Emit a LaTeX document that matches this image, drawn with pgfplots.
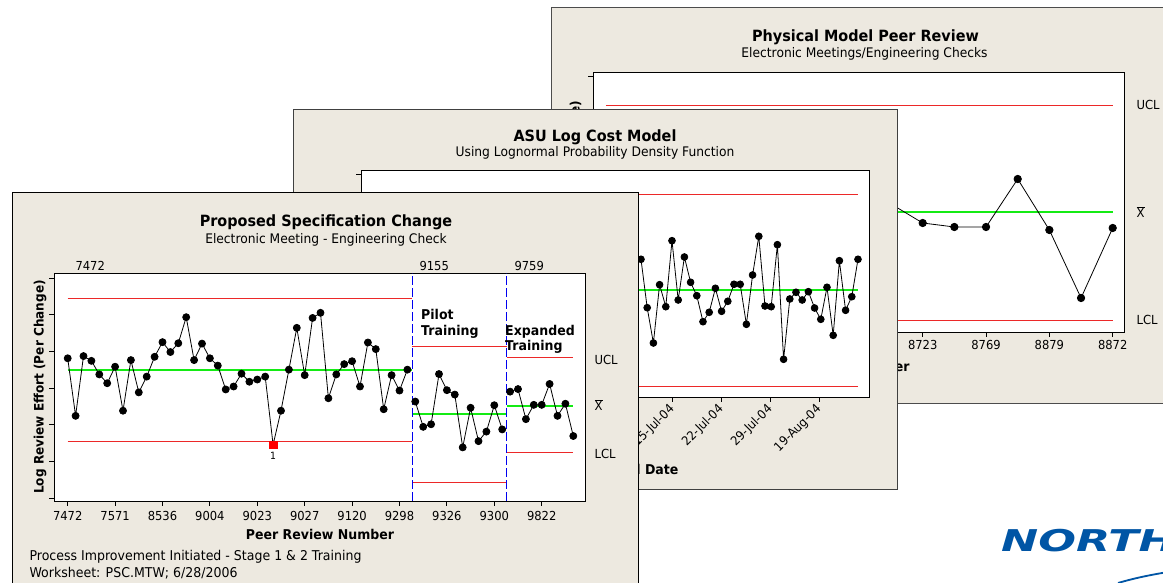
\documentclass[border=0pt]{standalone}
\usepackage{pgfplots}
\pgfplotsset{compat=1.18}
\usepackage{fontspec}
\usepackage{graphicx}
\setmainfont{DejaVu Sans}[FakeStretch=0.93]
\newfontfamily\logofont{DejaVu Sans}[FakeStretch=1.48]
\definecolor{win}{RGB}{237,233,224}
\definecolor{ucl}{RGB}{236,40,40}
\definecolor{clg}{RGB}{20,235,20}
\definecolor{stg}{RGB}{0,0,240}
\definecolor{logo}{RGB}{0,85,165}
\newcommand{\fs}[1]{\fontsize{#1}{#1}\selectfont}
\pgfplotsset{
  mtb/.style={
    axis background/.style={fill=white},
    axis line style={black, line width=0.9pt},
    tick align=outside,
    xtick pos=bottom, ytick pos=left,
    major tick length=5pt,
    tick style={black, line width=0.8pt},
    yticklabels={},
    tick label style={font=\fs{12.4}},
    /pgf/number format/assume math mode=true,
    anchor=south west,
  },
  dat/.style={black, line width=0.8pt, mark=*, mark size=3.5pt, mark options={solid, fill=black}},
  ctl/.style={ucl, line width=0.95pt},
  ctr/.style={clg, line width=1.2pt},
}
\begin{document}
\begin{tikzpicture}[x=1pt, y=1pt]
\useasboundingbox (0,0) rectangle (1163,583);
\clip (0,0) rectangle (1163,583);
\fill[white] (0,0) rectangle (1163,583);
% ---------------- back window ----------------
\draw[fill=win, draw=black!70, line width=1pt] (551,575) rectangle (1190,179);
\node[font=\fs{15.5}\bfseries] at (865.5,546) {Physical Model Peer Review};
\node[font=\fs{13.2}] at (864.5,529) {Electronic Meetings/Engineering Checks};
\node[font=\fs{13}\bfseries, rotate=90, anchor=east] at (576,486) {Log Review Effort (Per Change)};
\node[font=\fs{13.5}\bfseries, anchor=east] at (913,217) {Peer Review Number};
\node[font=\fs{12.5}, anchor=west] at (1133,478) {UCL};
\node[font=\fs{12.5}, anchor=west] at (1133,371) {$\overline{\mbox{X}}$};
\node[font=\fs{12.5}, anchor=west] at (1133,263) {LCL};
\begin{axis}[mtb, at={(593pt,251pt)}, x=31.67pt, y=10pt,
  xmin=0.59, xmax=17.38, ymin=0, ymax=26,
  xtick={1,3,5,7,9,11,13,15,17}, xticklabels={,,,,,8723,8769,8879,8872},
  ytick={25.6}]
\addplot[ctl] coordinates {(1,22.7) (17,22.7)};
\addplot[ctl] coordinates {(1,1.2) (17,1.2)};
\addplot[ctr] coordinates {(1,12.0) (17,12.0)};
\addplot[dat, mark size=3.7pt] coordinates {(10,12.8) (11,10.9) (12,10.5) (13,10.5) (14,15.3) (15,10.2) (16,3.4) (17,10.4)};
\end{axis}
% ---------------- middle window ----------------
\draw[fill=win, draw=black!75, line width=1pt] (293,473) rectangle (897,93);
\node[font=\fs{15.5}\bfseries] at (595,446) {ASU Log Cost Model};
\node[font=\fs{13.2}] at (595,430) {Using Lognormal Probability Density Function};
\node[font=\fs{13}\bfseries, rotate=90, anchor=east] at (318,392) {Log Review Effort (Per Change)};
\node[font=\fs{13.5}\bfseries, anchor=east] at (682,114) {Scheduled Date};
\begin{axis}[mtb, at={(361pt,186pt)}, x=6.2pt, y=10pt,
  xmin=-44.16, xmax=37.77, ymin=0, ymax=22.7,
  xtick={6.0,13.9,21.8,29.7}, xticklabels={15-Jul-04,22-Jul-04,29-Jul-04,19-Aug-04},
  xticklabel style={rotate=45, anchor=east, font=\fs{12.4}, yshift=-4pt},
  ytick={22.3}]
\addplot[ctl] coordinates {(-42,20.3) (36,20.3)};
\addplot[ctl] coordinates {(-42,1.1) (36,1.1)};
\addplot[ctr] coordinates {(-42,10.7) (36,10.7)};
\addplot[dat, mark size=3.4pt] coordinates {
(1,13.77) (2,8.93) (3,5.40) (4,11.23) (5,9.03) (6,15.63) (7,9.70) (8,14.00) (9,11.47)
(10,10.13) (11,7.53) (12,8.47) (13,10.87) (14,8.57) (15,9.57) (16,11.27) (17,11.27)
(18,7.27) (19,12.20) (20,16.07) (21,9.10) (22,9.03) (23,15.23) (24,3.77) (25,9.80)
(26,10.47) (27,9.70) (28,10.53) (29,8.90) (30,7.77) (31,10.97) (32,6.17) (33,13.63)
(34,8.67) (35,10.03) (36,13.77)};
\end{axis}
% ---------------- front window ----------------
\draw[fill=win, draw=black, line width=1pt] (12,390) rectangle (638,-20);
\node[font=\fs{15.5}\bfseries] at (326,361) {Proposed Specification Change};
\node[font=\fs{13.2}] at (326,343) {Electronic Meeting - Engineering Check};
\node[font=\fs{12.4}, anchor=west] at (72,317) {7472};
\node[font=\fs{12.4}, anchor=west] at (416,317) {9155};
\node[font=\fs{12.4}, anchor=west] at (511,317) {9759};
\node[font=\fs{13}\bfseries, rotate=90] at (40,196) {Log Review Effort (Per Change)};
\node[font=\fs{12.5}, anchor=west] at (591,223) {UCL};
\node[font=\fs{12.5}, anchor=west] at (591,178) {$\overline{\mbox{X}}$};
\node[font=\fs{12.5}, anchor=west] at (591,129) {LCL};
\node[font=\fs{13.5}\bfseries] at (320,49) {Peer Review Number};
\node[font=\fs{13.5}, anchor=west] at (26,26) {Process Improvement Initiated - Stage 1 \& 2 Training};
\node[font=\fs{13.5}, anchor=west] at (26,10) {Worksheet: PSC.MTW; 6/28/2006};
\begin{axis}[mtb, at={(54pt,82pt)}, x=7.9pt, y=36.67pt,
  xmin=-0.734, xmax=66.6, ymin=-0.082, ymax=6.136,
  xtick={1,7,13,19,25,31,37,43,49,55,61},
  xticklabels={7472,7571,8536,9004,9023,9027,9120,9298,9326,9300,9822},
  ytick={0,1,2,3,4,5,6},
  xticklabel style={yshift=-2pt}]
\addplot[ctl] coordinates {(1,5.43) (44.6,5.43)};
\addplot[ctl] coordinates {(1,1.55) (44.6,1.55)};
\addplot[ctr] coordinates {(1,3.49) (44.6,3.49)};
\addplot[ctl] coordinates {(44.6,4.12) (56.6,4.12)};
\addplot[ctl] coordinates {(44.6,0.41) (56.6,0.41)};
\addplot[ctr] coordinates {(44.6,2.29) (56.6,2.29)};
\addplot[ctl] coordinates {(56.6,3.82) (65,3.82)};
\addplot[ctl] coordinates {(56.6,1.23) (65,1.23)};
\addplot[ctr] coordinates {(56.6,2.51) (65,2.51)};
\addplot[stg, line width=1pt, dash pattern=on 9pt off 3pt] coordinates {(44.6,-0.082) (44.6,6.136)};
\addplot[stg, line width=1pt, dash pattern=on 9pt off 3pt] coordinates {(56.6,-0.082) (56.6,6.136)};
\addplot[dat] coordinates {
(1,3.81) (2,2.24) (3,3.87) (4,3.74) (5,3.37) (6,3.13) (7,3.58) (8,2.38) (9,3.76) (10,2.88)
(11,3.31) (12,3.85) (13,4.25) (14,3.98) (15,4.22) (16,4.93) (17,3.76) (18,4.21) (19,3.81) (20,3.61)
(21,2.96) (22,3.04) (23,3.39) (24,3.17) (25,3.23) (26,3.31) (27,1.45) (28,2.38) (29,3.50) (30,4.64)
(31,3.35) (32,4.91) (33,5.05) (34,2.72) (35,3.37) (36,3.65) (37,3.73) (38,3.04) (39,4.24) (40,4.06)
(41,2.42) (42,3.35) (43,2.93) (44,3.50)};
\addplot[dat] coordinates {
(45,2.63) (46,1.94) (47,2.01) (48,3.38) (49,2.94) (50,2.82) (51,1.38) (52,2.46) (53,1.55) (54,1.81)
(55,2.53) (56,1.87)};
\addplot[dat] coordinates {
(57,2.90) (58,2.97) (59,2.15) (60,2.54) (61,2.54) (62,3.11) (63,2.24) (64,2.57) (65,1.69)};
\addplot[only marks, mark=square*, mark size=3.8pt, color=red] coordinates {(27,1.45)};
\node[font=\fs{10}] at (axis cs:27,1.45) [yshift=-11.5pt] {1};
\end{axis}
\node[font=\fs{13.5}\bfseries, anchor=north west, align=left, inner sep=0pt] at (421,274) {Pilot\\[3pt]Training};
\node[font=\fs{13.5}\bfseries, anchor=north west, align=left, inner sep=0pt] at (505,258) {Expanded\\[2pt]Training};
% ---------------- logo ----------------
\node[font=\fs{30}\logofont\bfseries\itshape, text=logo, anchor=base west, inner sep=0pt] at (1001,31) {NORTHROP};
\draw[logo, line width=1.8pt] (1118,0) .. controls (1135,5) and (1150,8) .. (1168,11);
\end{tikzpicture}
\end{document}
